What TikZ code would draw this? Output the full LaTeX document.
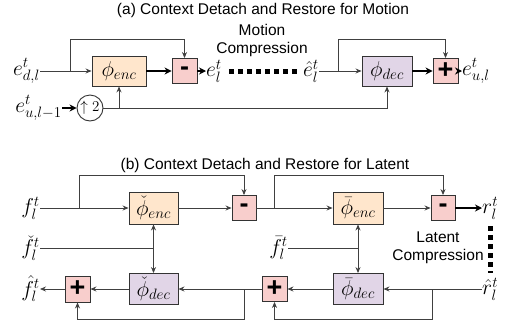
\RequirePackage{fix-cm}
\documentclass[tikz,border=0pt]{standalone}
\usepackage{fontspec}
\setsansfont{Liberation Sans}
\usetikzlibrary{positioning, arrows.meta, calc}

\definecolor{encfill}{HTML}{FFE6CC}
\definecolor{decfill}{HTML}{E1D5E7}
\definecolor{opfill}{HTML}{F8CECC}

\begin{document}
\begin{tikzpicture}[
    x=1pt, y=-1pt,
    >=Stealth,
    % Styles
    title/.style={ % Caption of each part
        font=\sffamily\fontsize{15.5}{18}\selectfont
    },
    note/.style={ % Compression note
        font=\sffamily\fontsize{15.5}{18}\selectfont,
        align=center
    },
    var/.style={ % Math label
        font=\fontsize{21.5}{25}\selectfont,
        inner sep=0pt
    },
    box/.style={ % Network block
        rectangle,
        draw=black!80,
        line width=0.9pt,
        minimum height=30pt,
        inner sep=0pt,
        font=\fontsize{21.5}{25}\selectfont
    },
    enc/.style={box, fill=encfill},
    dec/.style={box, fill=decfill},
    op/.style={ % Plus or minus block
        box,
        fill=opfill,
        minimum width=25pt,
        minimum height=25pt,
        font=\sffamily\bfseries\fontsize{27}{27}\selectfont
    },
    updown/.style={ % Upsampling
        circle,
        draw=black!80,
        line width=0.9pt,
        minimum size=26pt,
        inner sep=0pt,
        font=\fontsize{15}{18}\selectfont
    },
    line/.style={
        draw=black!75,
        line width=0.8pt
    },
    arrow/.style={
        line,
        -{Stealth[length=6pt, width=5pt]}
    },
    arrowb/.style={ % Thick black arrow
        -{Stealth[length=7pt, width=7pt]},
        line width=1.6pt
    },
    arrowd/.style={
        line,
        {Stealth[length=6pt, width=5pt]}-{Stealth[length=6pt, width=5pt]}
    },
    dots/.style={
        line width=5pt,
        dash pattern=on 5pt off 4pt
    }
]
    \useasboundingbox (0,0) rectangle (505,330);

    % (a) Motion
    \node[title] (ta) at (263,10) {(a) Context Detach and Restore for Motion};
    \node[var, anchor=east] (edl) at (40,71) {$e^t_{d,l}$};
    \node[enc, minimum width=54pt] (encA) at (119,71) {$\phi_{enc}$};
    \node[op] (minA) at (184.5,71) {-};
    \node[var, anchor=west] (el) at (206,71) {$e^t_l$};
    \node[var, anchor=east] (eh) at (319,71) {$\hat{e}^t_l$};
    \node[dec, minimum width=50pt] (decA) at (387,71) {$\phi_{dec}$};
    \node[op] (plusA) at (445.5,71) {+};
    \node[var, anchor=west] (eul) at (462,71) {$e^t_{u,l}$};
    \node[var, anchor=east] (eul1) at (62,108) {$e^t_{u,l-1}$};
    \node[updown] (up) at (90,108) {$\uparrow 2$};
    \node[note] (mc) at (262,40) {Motion\\Compression};

    \coordinate (bA1) at (70,71);
    \coordinate (bA2) at (338,71);
    \coordinate (bA3) at (119,108);
    \coordinate (cA) at (387,108);

    \draw[arrow] (edl.east) -- (encA.west);
    \draw[arrow] (bA1) -- ++(0,-32) -| (minA.north);
    \draw[arrowb] (encA.east) -- (minA.west);
    \draw[arrowb] (minA.east) -- (el.west);
    \draw[dots, shorten <=7pt, shorten >=5pt] (el.east) -- (eh.west);
    \draw[arrow] (eh.east) -- (decA.west);
    \draw[arrow] (bA2) -- ++(0,-32) -| (plusA.north);
    \draw[arrowb] (decA.east) -- (plusA.west);
    \draw[arrowb] (plusA.east) -- (eul.west);
    \draw[arrowb] (eul1.east) -- (up.west);
    \draw[arrow] (up.east) -- (cA) -- (decA.south);
    \draw[arrow] (bA3) -- (encA.south);

    % (b) Latent
    \node[title] (tb) at (265,165) {(b) Context Detach and Restore for Latent};
    \node[var, anchor=east] (fl) at (40,208) {$f^t_l$};
    \node[var, anchor=east] (fck) at (40,248) {$\check{f}^t_l$};
    \node[var, anchor=east] (fh) at (40,289) {$\hat{f}^t_l$};
    \node[enc, minimum width=49pt, minimum height=32pt] (encB1) at (153.5,208) {$\check{\phi}_{enc}$};
    \node[dec, minimum width=49pt, minimum height=31pt] (decB1) at (153.5,289) {$\check{\phi}_{dec}$};
    \node[op, minimum width=24pt] (minB1) at (244,208) {-};
    \node[op, minimum height=26pt] (plusB1) at (77.5,289) {+};
    \node[var, anchor=east] (fbr) at (288,248) {$\bar{f}^t_l$};
    \node[enc, minimum width=50pt, minimum height=32pt] (encB2) at (358,208) {$\bar{\phi}_{enc}$};
    \node[dec, minimum width=50pt, minimum height=31pt] (decB2) at (358,289) {$\bar{\phi}_{dec}$};
    \node[op, minimum width=24pt] (minB2) at (443,208) {-};
    \node[op] (plusB2) at (274.5,289) {+};
    \node[var, anchor=west] (rl) at (482,208) {$r^t_l$};
    \node[var, anchor=west] (rh) at (482,289) {$\hat{r}^t_l$};
    \node[note] (lc) at (438,248) {Latent\\Compression};

    \coordinate (bB1) at (79,208);
    \coordinate (bB2) at (274,208);
    \coordinate (bB3) at (432,289);
    \coordinate (bB4) at (244,289);

    \draw[arrow] (fl.east) -- (encB1.west);
    \draw[arrow] (bB1) -- ++(0,-33) -| (minB1.north);
    \draw[arrow] (encB1.east) -- (minB1.west);
    \draw[arrow] (minB1.east) -- (encB2.west);
    \draw[arrow] (bB2) -- ++(0,-33) -| (minB2.north);
    \draw[arrow] (encB2.east) -- (minB2.west);
    \draw[arrowb] (minB2.east) -- (rl.west);
    \draw[dots, shorten <=7pt, shorten >=5pt] (rl.south) -- (rh.north);

    \foreach \X in {B1, B2} {
        \draw[arrowd] (enc\X.south) -- (dec\X.north);
    }
    \draw[line] (fck.east) -- (fck.east -| encB1.south);
    \draw[line] (fbr.east) -- (fbr.east -| encB2.south);

    \draw[arrow] (rh.west) -- (decB2.east);
    \draw[arrow] (bB3) -- ++(0,30) -| (plusB2.south);
    \draw[arrow] (decB2.west) -- (plusB2.east);
    \draw[arrow] (plusB2.west) -- (decB1.east);
    \draw[arrow] (bB4) -- ++(0,30) -| (plusB1.south);
    \draw[arrow] (decB1.west) -- (plusB1.east);
    \draw[arrow] (plusB1.west) -- (fh.east);
\end{tikzpicture}
\end{document}
